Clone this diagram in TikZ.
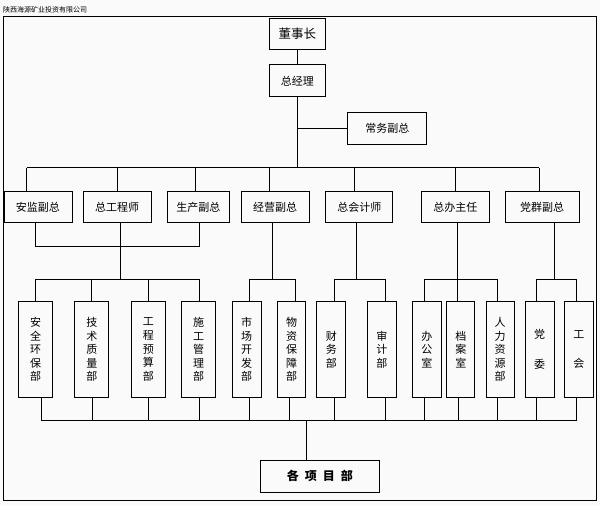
\documentclass[tikz,border=0pt]{standalone}
\usepackage{fontspec}
\newfontfamily\cjk{Noto Sans CJK SC}

\tikzset{
  box/.style={draw, line width=1pt, inner sep=0pt, font=\cjk\fontsize{11}{13}\selectfont},
  vbox/.style={box, minimum height=95.6, align=center, font=\cjk\fontsize{11}{13.6}\selectfont},
  link/.style={line width=0.9pt}
}

\begin{document}
\begin{tikzpicture}[x=1pt,y=-1pt]

\fill[black!2] (0,0) rectangle (600,506);
\useasboundingbox (0,0) rectangle (600,506);
\draw[line width=1pt] (3.5,16.7) rectangle (596.7,500.7);
\node[anchor=west, inner sep=0pt, font=\cjk\fontsize{7}{8}\selectfont] (title) at (3,9.5) {陕西海源矿业投资有限公司};

\coordinate (busA) at (0,167.7);
\coordinate (busB) at (0,246.7);
\coordinate (busC) at (0,279);
\coordinate (busD) at (0,420.7);

% top
\node[box, minimum width=56.7, minimum height=31, font=\cjk\fontsize{12.5}{14}\selectfont] (dsz) at (297.4,33.8) {董事长};
\node[box, minimum width=56.7, minimum height=31.7] (zjl) at (297.4,80.8) {总经理};
\node[box, minimum width=79.3, minimum height=31.7] (cwfz) at (387.3,128.2) {常务副总};

% second row
\foreach \n/\x/\w/\t in {aj/38/68/安监副总, zgc/117.2/67.7/总工程师, scfz/198.3/62/生产副总,
  jyfz/275/68/经营副总, zkj/359.3/67.3/总会计师, zbzr/455.3/68/总办主任, dqfz/542.2/73.7/党群副总}
  \node[box, minimum width=\w, minimum height=31] (\n) at (\x,207.2) {\t};

% departments
\foreach \n/\x/\w/\t in {aqhb/35.5/34.4/{安\\全\\环\\保\\部}, jszl/91.8/34.3/{技\\术\\质\\量\\部},
  gcys/148.3/34/{工\\程\\预\\算\\部}, sggl/198.7/34/{施\\工\\管\\理\\部},
  scky/246.7/28.7/{市\\场\\开\\发\\部}, wzbz/291.5/28.4/{物\\资\\保\\障\\部},
  cwb/331.3/28.7/{财\\务\\部}, sjb/381.8/29/{审\\计\\部}, bgs/426.8/29/{办\\公\\室},
  das/460.8/28.3/{档\\案\\室}, rlzy/500.2/28.3/{人\\力\\资\\源\\部},
  dw/539.7/28.7/{党\\[16pt]委}, gh/578.8/29/{工\\[16pt]会}}
  \node[vbox, minimum width=\w] (\n) at (\x,349.5) {\t};

\node[box, minimum width=119, minimum height=31.7, font=\cjk\bfseries\fontsize{12}{14}\selectfont] (xmb) at (319.8,476.2)
  {各\hspace{0.5em}项\hspace{0.5em}目\hspace{0.5em}部};

% connectors
\draw[link] (dsz) -- (zjl);
\draw[link] (zjl) -- (zjl |- busA);
\draw[link] (zjl |- cwfz) -- (cwfz);
\draw[link] ([xshift=-11.3]aj.north |- busA) -- ([xshift=-2.9]dqfz.north |- busA);
\foreach \n/\d in {aj/-11.3, zgc/0, scfz/-2.6, jyfz/-5.7, zkj/-5.3, zbzr/0, dqfz/-2.9}
  \draw[link] ([xshift=\d]\n.north) -- ([xshift=\d]\n.north |- busA);

\foreach \n/\d in {aj/-2.3, scfz/0.7}
  \draw[link] ([xshift=\d]\n.south) -- ([xshift=\d]\n.south |- busB);
\draw[link] ([xshift=-2.3]aj.south |- busB) -- ([xshift=0.7]scfz.south |- busB);
\foreach \n/\d in {zgc/2.8, jyfz/-3, zkj/-2.6, zbzr/2.4, dqfz/11.8}
  \draw[link] ([xshift=\d]\n.south) -- ([xshift=\d]\n.south |- busC);

\foreach \a/\da/\b/\db in {aqhb/0.2/sggl/0.3, scky/3/wzbz/3.5, cwb/2.7/sjb/3.2, bgs/-2.5/rlzy/-2.9, dw/-3/gh/-2.8}
  \draw[link] ([xshift=\da]\a.north |- busC) -- ([xshift=\db]\b.north |- busC);
\foreach \n/\d in {aqhb/0.2, jszl/0, gcys/0, sggl/0.3, scky/3, wzbz/3.5, cwb/2.7, sjb/3.2,
  bgs/-2.5, das/-3.1, rlzy/-2.9, dw/-3, gh/-2.8}
  \draw[link] ([xshift=\d]\n.north) -- ([xshift=\d]\n.north |- busC);

\foreach \n/\d in {aqhb/6.2, jszl/0.2, gcys/0, sggl/0.3, scky/3, wzbz/-2.2, cwb/2.7, sjb/3.2,
  bgs/-2.5, das/-2.8, rlzy/-2.9, dw/-3, gh/-2.8}
  \draw[link] ([xshift=\d]\n.south) -- ([xshift=\d]\n.south |- busD);
\draw[link] ([xshift=6.2]aqhb.south |- busD) -- ([xshift=-2.8]gh.south |- busD);
\draw[link] ([xshift=-13.8]xmb.north |- busD) -- ([xshift=-13.8]xmb.north);

\end{tikzpicture}
\end{document}
